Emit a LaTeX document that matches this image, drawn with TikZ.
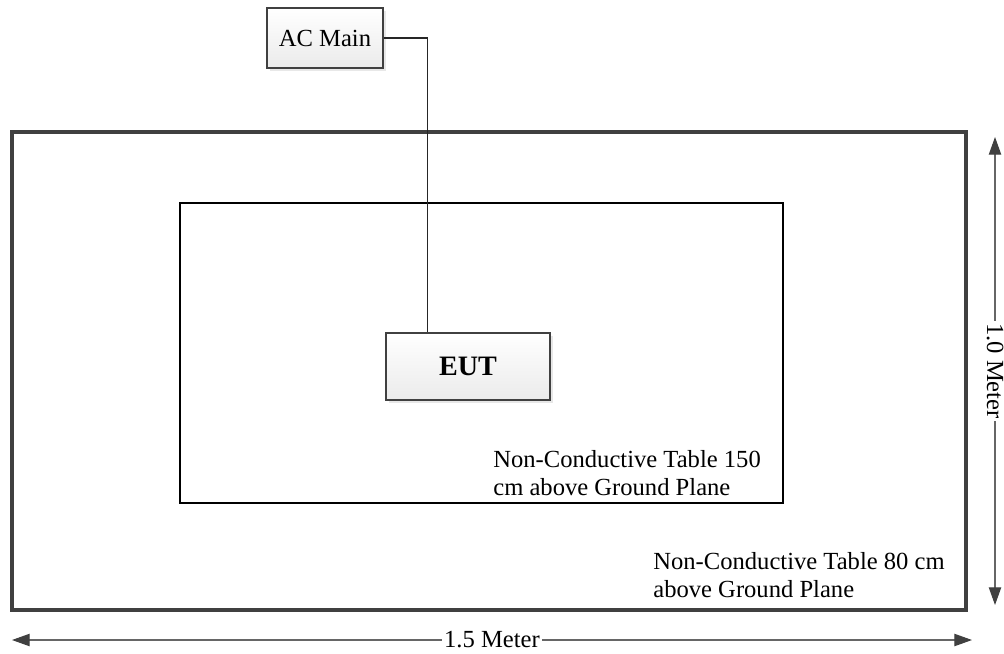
\documentclass[tikz,border=0pt]{standalone}
\usepackage{fontspec}
\setmainfont{Liberation Serif}
\usetikzlibrary{arrows.meta,shadows}

\begin{document}
\begin{tikzpicture}[
    x=0.02cm, y=-0.02cm,
    table/.style={draw, rectangle, inner sep=0pt, outer sep=0pt},
    unit/.style={draw=black!75, line width=1.1pt, rectangle, top color=white, bottom color=black!8,
        drop shadow={shadow xshift=1.6pt, shadow yshift=-1.6pt, fill=black!18}, font=\fontsize{14}{16}\selectfont},
    note/.style={font=\fontsize{14}{16}\selectfont, align=left, anchor=north west, inner sep=0pt},
    wire/.style={black!85, line width=0.6pt},
    dim/.style={black!60, line width=0.6pt, {Triangle[length=10pt,width=7pt,black!75]}-{Triangle[length=10pt,width=7pt,black!75]}},
    dimlabel/.style={fill=white, text=black, inner sep=1pt, font=\fontsize{14}{16}\selectfont}
]
    \useasboundingbox (0,0) rectangle (1004,653);

    % Tables
    \node[table, draw=black!75, line width=2pt, fill=white, drop shadow={shadow xshift=1.2pt, shadow yshift=-1.2pt, fill=black!15},
        minimum width=19.08cm, minimum height=9.56cm] (outertable) at (489,371) {};
    \node[table, line width=1pt, minimum width=12.06cm, minimum height=6cm] (innertable) at (481.5,353) {};

    % Table labels
    \node[note] (innerlabel) at (493,450) {Non-Conductive Table 150\\cm above Ground Plane};
    \node[note] (outerlabel) at (653,552) {Non-Conductive Table 80 cm\\above Ground Plane};

    % Units
    \node[unit, minimum width=2.32cm, minimum height=1.2cm] (acmain) at (325,38) {AC Main};
    \node[unit, minimum width=3.28cm, minimum height=1.34cm, font=\fontsize{16}{18}\selectfont\bfseries] (eut) at (468,366.5) {EUT};

    % Power cord
    \draw[wire] (acmain.east) -| ([xshift=0.84cm]eut.north west);

    % Dimensions
    \coordinate (hleft) at (12,640);
    \coordinate (hright) at (972,640);
    \draw[dim] (hleft) -- node[dimlabel] {1.5 Meter} (hright);

    \coordinate (vtop) at (995,137);
    \coordinate (vbot) at (995,605);
    \draw[dim] (vtop) -- node[dimlabel, rotate=-90] {1.0 Meter} (vbot);

\end{tikzpicture}
\end{document}
